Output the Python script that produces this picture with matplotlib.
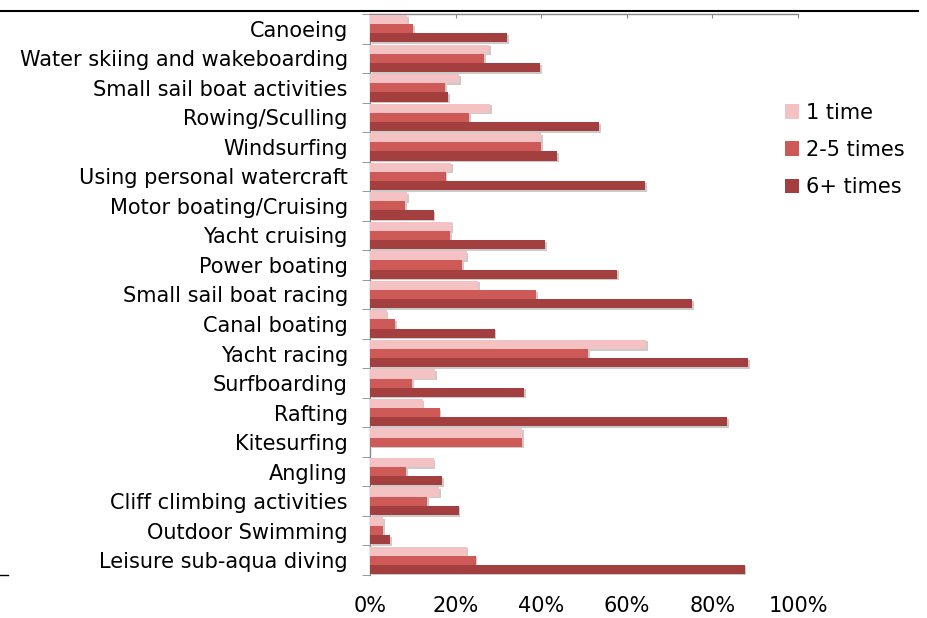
import matplotlib
matplotlib.use("Agg")
import matplotlib.pyplot as plt
import matplotlib.patheffects as pe
from matplotlib.lines import Line2D
from matplotlib.ticker import FixedLocator, FuncFormatter
import numpy as np

categories = ["Canoeing", "Water skiing and wakeboarding", "Small sail boat activities",
              "Rowing/Sculling", "Windsurfing", "Using personal watercraft",
              "Motor boating/Cruising", "Yacht cruising", "Power boating",
              "Small sail boat racing", "Canal boating", "Yacht racing", "Surfboarding",
              "Rafting", "Kitesurfing", "Angling", "Cliff climbing activities",
              "Outdoor Swimming", "Leisure sub-aqua diving"]
series_names = ["1 time", "2-5 times", "6+ times"]
one_time = [8.7, 27.9, 20.9, 28.1, 40.0, 18.9, 8.7, 19.1, 22.6, 25.2, 3.9, 64.6, 15.3,
            12.3, 35.6, 14.9, 16.1, 3.0, 22.6]
two_five = [10.1, 26.6, 17.6, 23.1, 40.0, 17.7, 8.2, 18.7, 21.5, 38.9, 5.9, 51.0, 9.9,
            16.3, 35.6, 8.5, 13.4, 3.1, 24.7]
six_plus = [32.1, 39.7, 18.2, 53.5, 43.7, 64.3, 14.9, 40.9, 57.7, 75.2, 29.1, 88.3, 36.0,
            83.5, 0.0, 16.8, 20.7, 4.7, 87.5]
x_ticks = [0, 20, 40, 60, 80, 100]

colors = ["#F4C2C2", "#CD5A57", "#A33F3E"]

W, H = 927, 618
fig = plt.figure(figsize=(W / 100, H / 100), dpi=100)
ax = fig.add_axes([370 / W, 1 - 575 / H, (798 - 370) / W, (575 - 14) / H])

n = len(categories)
y = np.arange(n)
bh = 0.31
shadow = [pe.SimplePatchShadow(offset=(1.2, -1.2), shadow_rgbFace="#999999", alpha=0.5), pe.Normal()]
for i, (vals, c, name) in enumerate(zip([one_time, two_five, six_plus], colors, series_names)):
    bars = ax.barh(y + (i - 1) * bh, vals, height=bh, color=c, label=name, zorder=3)
    for b in bars:
        b.set_path_effects(shadow)

ax.set_xlim(0, 100)
ax.set_ylim(n - 0.5, -0.5)

ax.xaxis.set_major_locator(FixedLocator(x_ticks))
ax.xaxis.set_major_formatter(FuncFormatter(lambda v, p: f"{int(v)}%"))
ax.tick_params(axis="x", top=True, bottom=False, labeltop=False, labelbottom=True,
               direction="in", length=3, color="#888888", labelsize=15, pad=15)

ax.set_yticks(y)
ax.set_yticklabels(categories)
ax.yaxis.set_minor_locator(FixedLocator(np.arange(-0.5, n, 1.0)))
ax.tick_params(axis="y", which="major", length=0, labelsize=15, pad=16)
ax.tick_params(axis="y", which="minor", length=6, color="#888888", direction="out")

for s in ["right", "bottom"]:
    ax.spines[s].set_visible(False)
for s in ["left", "top"]:
    ax.spines[s].set_color("#888888")
    ax.spines[s].set_linewidth(1.0)

leg = fig.legend(loc="upper left", bbox_to_anchor=(766 / W, 1 - 84 / H), frameon=False,
                 fontsize=15, handlelength=0.7, handleheight=0.7, handletextpad=0.3,
                 labelspacing=0.83)
for h in leg.legend_handles:
    h.set_path_effects([])

fig.add_artist(Line2D([0, 918 / W], [1 - 11 / H, 1 - 11 / H], color="black", lw=1.5))
fig.add_artist(Line2D([0, 8 / W], [1 - 575 / H, 1 - 575 / H], color="black", lw=1.0))

fig.savefig("out.png", dpi=100)
